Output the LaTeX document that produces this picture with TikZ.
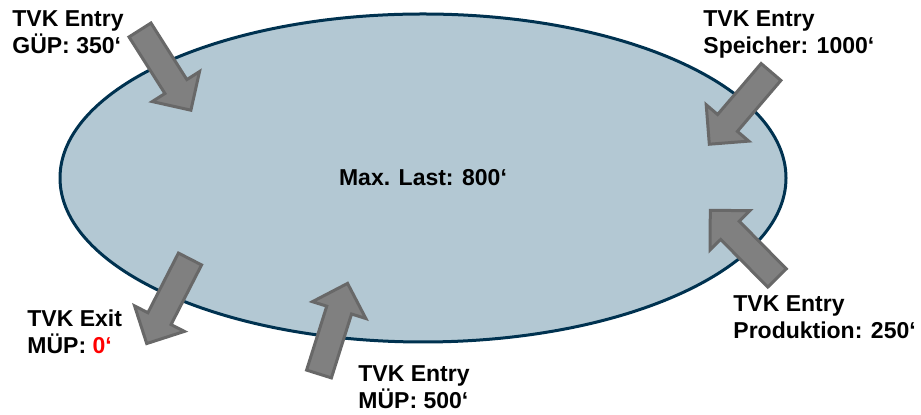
\documentclass[tikz,border=0pt]{standalone}
\usepackage{fontspec}
\setmainfont{Liberation Sans}
\usetikzlibrary{shapes.geometric}

\definecolor{tankFill}{RGB}{179,200,211}
\definecolor{tankLine}{RGB}{0,50,80}
\definecolor{flowFill}{RGB}{128,128,128}
\definecolor{flowLine}{RGB}{104,104,104}
\definecolor{exitRed}{RGB}{255,0,0}

\tikzset{
  lbl/.style={font=\fontsize{11.5}{13.5}\selectfont\bfseries, align=left, inner sep=0pt, anchor=north west},
  flowarrow/.pic={
    \draw[fill=flowFill, draw=flowLine, line width=1.5pt, line join=miter]
      (0,-13) -- (67,-13) -- (67,-28) -- (95,0) -- (67,28) -- (67,13) -- (0,13) -- cycle;
  }
}

\begin{document}
\begin{tikzpicture}[x=0.5pt, y=-0.5pt]
\useasboundingbox (0,0) rectangle (921,415);
\node[ellipse, draw=tankLine, line width=1.5pt, fill=tankFill, minimum width=363pt, minimum height=164pt, inner sep=0pt,
  font=\fontsize{11.5}{13.5}\selectfont\bfseries] (tank) at (423,178) {Max. Last: 800‘};
% flows into and out of the tank
\pic[rotate=-57.6] (gup) at (140,30) {flowarrow};
\pic[rotate=-130.5] (speicher) at (771,72) {flowarrow};
\pic[rotate=-117.1] (exit) at (190,259) {flowarrow};
\pic[rotate=72.5] (muep) at (319,374) {flowarrow};
\pic[rotate=134.6] (prod) at (777,278) {flowarrow};
\node[lbl] (gupTxt) at (12,10.5) {TVK Entry\\GÜP: 350‘};
\node[lbl] (speicherTxt) at (703,10.5) {TVK Entry\\Speicher: 1000‘};
\node[lbl] (exitTxt) at (27,309.5) {TVK Exit\\MÜP: \textcolor{exitRed}{0‘}};
\node[lbl] (muepTxt) at (358,365.5) {TVK Entry\\MÜP: 500‘};
\node[lbl] (prodTxt) at (733,295.5) {TVK Entry\\Produktion: 250‘};
\end{tikzpicture}
\end{document}
